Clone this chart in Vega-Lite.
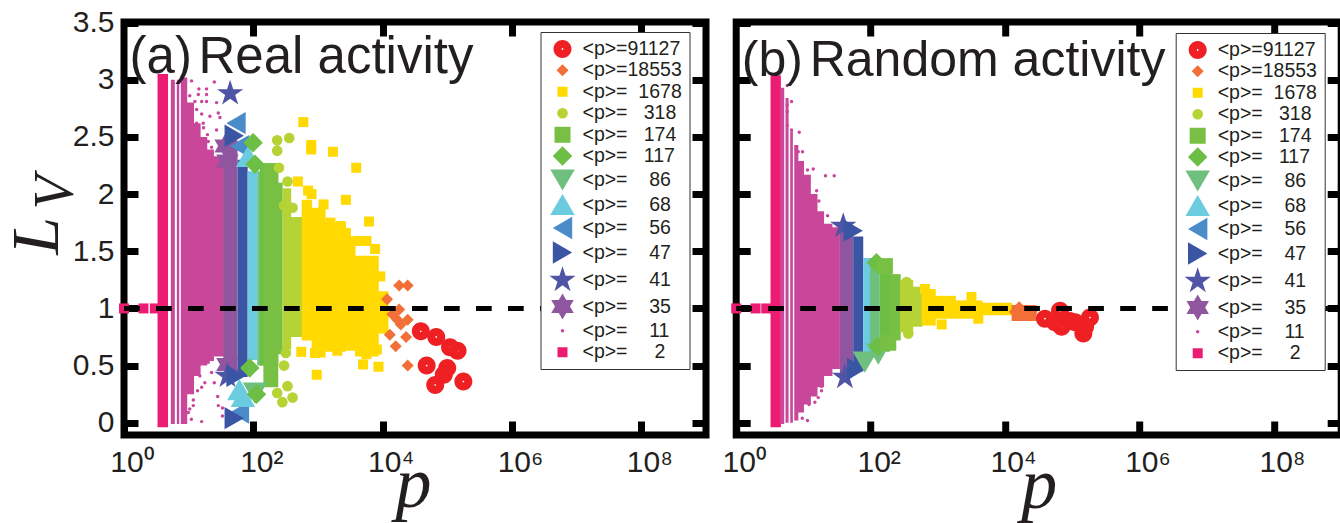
{
"$schema":"https://vega.github.io/schema/vega-lite/v6.json",
"padding":{"left":0,"top":4,"right":0,"bottom":0},
"background":"white",
"bounds":"flush",
"spacing":30.2,
"resolve":{"scale":{"color":"independent","shape":"independent","size":"independent"}},
"config":{"view":{"stroke":"#000","strokeWidth":7},"font":"Liberation Sans","axis":{"grid":false,"domain":false,"tickColor":"#000","tickWidth":7,"tickSize":-14,"labelFont":"Liberation Sans","labelFontSize":30,"labelColor":"#231f20","labelFlush":false}},
"datasets":{
"a_bands":[
{"s":"11","p":5.3,"p2":6.11,"lo":-0.01,"hi":3.0},
{"s":"11","p":6.57,"p2":7.15,"lo":-0.01,"hi":3.0},
{"s":"11","p":7.57,"p2":9.5,"lo":-0.01,"hi":3.02},
{"s":"11","p":9.3,"p2":12.1,"lo":0.25,"hi":2.8},
{"s":"11","p":11.8,"p2":15.3,"lo":0.41,"hi":2.62},
{"s":"11","p":14.9,"p2":19.4,"lo":0.5,"hi":2.5},
{"s":"11","p":18.9,"p2":24.6,"lo":0.54,"hi":2.39},
{"s":"11","p":24,"p2":35,"lo":0.58,"hi":2.33},
{"s":"2","p":3.3,"p2":4.8,"lo":-0.04,"hi":3.05},
{"s":"35","p":34.3,"p2":57,"lo":0.47,"hi":2.47},
{"s":"47","p":57,"p2":81.7,"lo":0.4,"hi":2.3},
{"s":"68","p":81.7,"p2":115,"lo":0.55,"hi":2.2},
{"s":"86","p":115,"p2":151,"lo":0.5,"hi":2.2},
{"s":"117","p":126,"p2":243,"lo":0.5,"hi":2.27},
{"s":"174","p":143,"p2":243,"lo":0.31,"hi":2.27},
{"s":"174","p":240,"p2":284,"lo":0.6,"hi":2.1},
{"s":"318","p":284,"p2":385,"lo":0.64,"hi":2.05},
{"s":"318","p":380,"p2":578,"lo":0.75,"hi":1.8},
{"s":"1678","p":560,"p2":810,"lo":0.72,"hi":1.95},
{"s":"1678","p":798,"p2":1310,"lo":0.57,"hi":1.88},
{"s":"1678","p":1285,"p2":2680,"lo":0.62,"hi":1.75},
{"s":"1678","p":2620,"p2":3800,"lo":0.63,"hi":1.63},
{"s":"1678","p":3740,"p2":8700,"lo":0.58,"hi":1.46},
{"s":"1678","p":8590,"p2":12300,"lo":0.78,"hi":1.15}
],
"a_pts":[
{"s":"2","p":1,"v":1},{"s":"2","p":2,"v":1},{"s":"2","p":3,"v":1},
{"s":"11","p":11.1,"v":2.99},{"s":"11","p":14.4,"v":2.92},{"s":"11","p":18.9,"v":2.92},{"s":"11","p":24.9,"v":2.98},{"s":"11","p":14.1,"v":2.87},{"s":"11","p":18.9,"v":2.87},{"s":"11","p":10.4,"v":2.86},{"s":"11","p":12.5,"v":2.81},{"s":"11","p":15.9,"v":2.81},{"s":"11","p":18.9,"v":2.81},{"s":"11","p":27,"v":2.8},{"s":"11","p":13.3,"v":2.74},{"s":"11","p":15.9,"v":2.7},{"s":"11","p":21.3,"v":2.68},{"s":"11","p":28.7,"v":2.71},{"s":"11","p":30.5,"v":2.67},{"s":"11","p":13.3,"v":2.62},{"s":"11","p":16.8,"v":2.62},{"s":"11","p":27,"v":2.56},{"s":"11","p":20.1,"v":2.46},{"s":"11","p":22.6,"v":2.41},{"s":"11","p":21.3,"v":2.32},{"s":"11","p":30.5,"v":2.17},{"s":"11","p":17,"v":2.58},{"s":"11","p":19.5,"v":2.52},
{"s":"11","p":15.9,"v":0.01},{"s":"11","p":28.1,"v":0.23},{"s":"11","p":28.7,"v":0.15},{"s":"11","p":33.3,"v":0.13},{"s":"11","p":33.3,"v":0.06},{"s":"11","p":11.8,"v":0.2},{"s":"11","p":13.7,"v":0.28},{"s":"11","p":15.9,"v":0.31},{"s":"11","p":11.8,"v":0.15},{"s":"11","p":17.8,"v":0.35},{"s":"11","p":14.9,"v":0.41},{"s":"11","p":22.6,"v":0.44},{"s":"11","p":24.9,"v":0.35},{"s":"11","p":20.1,"v":0.53},{"s":"11","p":22.1,"v":0.63},{"s":"11","p":15.9,"v":0.58},{"s":"11","p":12.5,"v":0.53},{"s":"11","p":9.9,"v":0.09},{"s":"11","p":8.24,"v":0.03},{"s":"11","p":11,"v":0.03},{"s":"11","p":10.4,"v":0.12},
{"s":"35","p":37.3,"v":2.42},{"s":"35","p":39.8,"v":2.29},{"s":"35","p":39.8,"v":0.51},
{"s":"41","p":43.8,"v":2.88},{"s":"41","p":39.8,"v":0.41},
{"s":"56","p":54,"v":2.62},{"s":"56","p":61,"v":0.09},{"s":"56","p":61,"v":2.42},
{"s":"47","p":50.7,"v":0.04},{"s":"47","p":50.7,"v":2.51},{"s":"47","p":54,"v":0.41},
{"s":"68","p":68.9,"v":0.23},{"s":"68","p":82.8,"v":2.33},{"s":"68","p":61,"v":0.29},
{"s":"86","p":106,"v":0.26},
{"s":"117","p":99,"v":2.45},{"s":"117","p":112,"v":0.25},{"s":"117","p":106,"v":2.26},{"s":"117","p":88,"v":0.48},
{"s":"318","p":234,"v":2.47},{"s":"318","p":359,"v":2.49},{"s":"318","p":234,"v":2.38},{"s":"318","p":249,"v":2.23},{"s":"318","p":338,"v":2.11},{"s":"318","p":405,"v":1.88},{"s":"318","p":299,"v":1.9},{"s":"318","p":234,"v":0.26},{"s":"318","p":338,"v":0.32},{"s":"318","p":405,"v":0.22},{"s":"318","p":281,"v":0.18},{"s":"318","p":318,"v":0.61},{"s":"318","p":299,"v":0.5},
{"s":"1678","p":593,"v":2.63},{"s":"1678","p":785,"v":2.43},{"s":"1678","p":785,"v":2.39},{"s":"1678","p":1700,"v":2.37},{"s":"1678","p":3900,"v":2.23},{"s":"1678","p":2700,"v":1.95},{"s":"1678","p":488,"v":2.11},{"s":"1678","p":703,"v":2.03},{"s":"1678","p":794,"v":2.0},{"s":"1678","p":1220,"v":1.91},{"s":"1678","p":6140,"v":1.76},{"s":"1678","p":1560,"v":1.75},{"s":"1678","p":2250,"v":1.72},{"s":"1678","p":2700,"v":1.66},{"s":"1678","p":5620,"v":1.59},{"s":"1678","p":7640,"v":1.52},{"s":"1678","p":4150,"v":1.59},{"s":"1678","p":9180,"v":1.28},{"s":"1678","p":955,"v":0.42},{"s":"1678","p":4980,"v":0.51},{"s":"1678","p":8630,"v":0.49},{"s":"1678","p":551,"v":0.62},{"s":"1678","p":899,"v":0.61},{"s":"1678","p":1990,"v":0.63},{"s":"1678","p":8130,"v":0.64},{"s":"1678","p":5620,"v":0.6},
{"s":"18553","p":18000,"v":1.2},{"s":"18553","p":24400,"v":1.2},{"s":"18553","p":11700,"v":1.08},{"s":"18553","p":14100,"v":0.95},{"s":"18553","p":18000,"v":0.99},{"s":"18553","p":24400,"v":0.9},{"s":"18553","p":19100,"v":0.86},{"s":"18553","p":12900,"v":0.77},{"s":"18553","p":23000,"v":0.75},{"s":"18553","p":15900,"v":0.67},{"s":"18553","p":24400,"v":0.5},{"s":"18553","p":16900,"v":0.9},
{"s":"91127","p":38900,"v":0.8},{"s":"91127","p":67400,"v":0.75},{"s":"91127","p":110000,"v":0.66},{"s":"91127","p":144000,"v":0.63},{"s":"91127","p":47900,"v":0.5},{"s":"91127","p":99700,"v":0.48},{"s":"91127","p":88100,"v":0.42},{"s":"91127","p":65000,"v":0.33},{"s":"91127","p":177000,"v":0.36}
],
"b_bands":[
{"s":"11","p":4.62,"p2":5.18,"lo":-0.01,"hi":2.93},
{"s":"11","p":5.42,"p2":6.01,"lo":0,"hi":2.84},
{"s":"11","p":6.37,"p2":6.97,"lo":0,"hi":2.55},
{"s":"11","p":7.3,"p2":8.4,"lo":0.02,"hi":2.43},
{"s":"11","p":8.18,"p2":10.2,"lo":0.09,"hi":2.29},
{"s":"11","p":9.93,"p2":12.9,"lo":0.16,"hi":2.17},
{"s":"11","p":12.5,"p2":16.2,"lo":0.23,"hi":2.0},
{"s":"11","p":15.7,"p2":20.3,"lo":0.31,"hi":1.85},
{"s":"11","p":19.7,"p2":27,"lo":0.41,"hi":1.74},
{"s":"11","p":26.2,"p2":34.9,"lo":0.47,"hi":1.71},
{"s":"2","p":3.24,"p2":4.62,"lo":-0.04,"hi":3.04},
{"s":"35","p":34.9,"p2":55,"lo":0.41,"hi":1.73},
{"s":"47","p":55,"p2":77.6,"lo":0.45,"hi":1.63},
{"s":"68","p":77.6,"p2":116,"lo":0.57,"hi":1.44},
{"s":"86","p":97.5,"p2":137,"lo":0.6,"hi":1.44},
{"s":"117","p":137,"p2":195,"lo":0.62,"hi":1.41},
{"s":"174","p":190,"p2":280,"lo":0.72,"hi":1.3},
{"s":"318","p":273,"p2":430,"lo":0.79,"hi":1.25},
{"s":"318","p":420,"p2":590,"lo":0.84,"hi":1.19},
{"s":"1678","p":573,"p2":930,"lo":0.85,"hi":1.17},
{"s":"1678","p":904,"p2":1850,"lo":0.91,"hi":1.11},
{"s":"1678","p":1794,"p2":4600,"lo":0.91,"hi":1.07},
{"s":"1678","p":4477,"p2":12800,"lo":0.94,"hi":1.05},
{"s":"18553","p":12500,"p2":29400,"lo":0.89,"hi":1.03}
],
"b_pts":[
{"s":"2","p":1,"v":1},{"s":"2","p":1.94,"v":1},{"s":"2","p":2.8,"v":1},
{"s":"11","p":5.74,"v":2.95},{"s":"11","p":6.66,"v":2.81},{"s":"11","p":5.74,"v":2.78},{"s":"11","p":5.74,"v":2.72},{"s":"11","p":5.74,"v":2.6},{"s":"11","p":8.66,"v":2.54},{"s":"11","p":6.66,"v":2.56},{"s":"11","p":8.37,"v":2.37},{"s":"11","p":9.7,"v":2.37},{"s":"11","p":9.38,"v":2.27},{"s":"11","p":11.5,"v":2.21},{"s":"11","p":14,"v":2.22},{"s":"11","p":21.3,"v":2.16},{"s":"11","p":28.7,"v":2.16},{"s":"11","p":15.7,"v":2.03},{"s":"11","p":17,"v":1.94},{"s":"11","p":14,"v":1.89},{"s":"11","p":12.5,"v":1.87},{"s":"11","p":14.8,"v":1.83},{"s":"11","p":18.6,"v":1.8},{"s":"11","p":22.9,"v":1.81},{"s":"11","p":24.8,"v":1.7},{"s":"11","p":23.4,"v":0.51},{"s":"11","p":18.6,"v":0.32},{"s":"11","p":18.6,"v":0.28},{"s":"11","p":16.6,"v":0.22},{"s":"11","p":14.8,"v":0.18},{"s":"11","p":12.1,"v":0.16},{"s":"11","p":11.5,"v":0.02},{"s":"11","p":9.6,"v":0.04},
{"s":"41","p":41.4,"v":0.4},{"s":"41","p":39.1,"v":1.72},
{"s":"47","p":55,"v":1.68},{"s":"47","p":62,"v":0.47},
{"s":"86","p":130,"v":0.6},{"s":"86","p":82,"v":0.53},
{"s":"117","p":130,"v":0.67},{"s":"117","p":122,"v":1.4},
{"s":"174","p":163,"v":1.37},{"s":"174","p":183,"v":0.7},
{"s":"318","p":343,"v":1.23},{"s":"318","p":363,"v":0.78},
{"s":"1678","p":642,"v":1.17},{"s":"1678","p":1140,"v":0.86},{"s":"1678","p":3990,"v":0.91},{"s":"1678","p":3160,"v":1.1},
{"s":"18553","p":16200,"v":1.01},{"s":"18553","p":24800,"v":0.97},{"s":"18553","p":14000,"v":0.97},
{"s":"91127","p":39200,"v":0.91},{"s":"91127","p":65600,"v":0.98},{"s":"91127","p":69300,"v":0.84},{"s":"91127","p":92300,"v":0.89},{"s":"91127","p":146000,"v":0.78},{"s":"91127","p":183000,"v":0.92},{"s":"91127","p":155000,"v":0.84},{"s":"91127","p":55200,"v":0.88},{"s":"91127","p":110000,"v":0.88}
],
"a_line":[{"p":1,"v":1},{"p":1000000000,"v":1}],
"b_line":[{"p":1,"v":1},{"p":1000000000,"v":1}],
"a_text":[{"t":"(a)","p":1.22,"v":3.06},{"t":"Real activity","p":14.2,"v":3.06}],
"b_text":[{"t":"(b)","p":1.21,"v":3.03},{"t":"Random activity","p":12.4,"v":3.03}],
"a_L":[{"t":"L","p":0.095,"v":1.47}],
"a_V":[{"t":"V","p":0.165,"v":1.866}]
},
"hconcat":[
{"width":582,"height":413,
"resolve":{"axis":{"x":"independent","y":"independent"}},
"encoding":{"x":{"field":"p","type":"quantitative","scale":{"type":"log","domain":[1,1000000000]},"axis":null},
"y":{"field":"v","type":"quantitative","scale":{"domain":[-0.107,3.505]},"axis":null}},
"layer":[
{"data":{"name":"a_bands"},"mark":{"type":"rect"},
"encoding":{"x2":{"field":"p2"},"y":{"field":"lo","type":"quantitative","scale":{"domain":[-0.107,3.505]},"axis":null},"y2":{"field":"hi"},
"color":{"field":"s","type":"nominal","scale":{"domain":["91127","18553","1678","318","174","117","86","68","56","47","41","35","11","2"],"range":["#EE2024","#F26F38","#FFD900","#B5D334","#77C043","#6CBE45","#6FC07F","#6BCBDF","#4A8BC9","#3B55A5","#4F54A5","#8F559F","#C9479A","#ED1C73"]}}}},
{"data":{"name":"a_pts"},"mark":{"type":"point","filled":true,"opacity":1,"strokeWidth":0},
"encoding":{"x":{"field":"p","type":"quantitative","scale":{"type":"log","domain":[1,1000000000]},"axis":{"orient":"bottom","values":[1,100,10000,1000000,100000000],"labelExpr":"datum.value==1?'10⁰':datum.value==100?'10²':datum.value==10000?'10⁴':datum.value==1000000?'10⁶':'10⁸'","labelPadding":26,"labelOffset":8,"title":"p","titleFont":"Liberation Serif","titleFontStyle":"italic","titleFontWeight":"normal","titleFontSize":72,"titleColor":"#231f20","titleX":289,"titleY":71.5,"titleBaseline":"alphabetic"}},
"y":{"field":"v","type":"quantitative","scale":{"domain":[-0.107,3.505]},"axis":{"orient":"left","values":[0,0.5,1,1.5,2,2.5,3,3.5],"format":"~g","labelPadding":24,"title":null}},
"color":{"field":"s","type":"nominal","scale":{"domain":["91127","18553","1678","318","174","117","86","68","56","47","41","35","11","2"],"range":["#EE2024","#F26F38","#FFD900","#B5D334","#77C043","#6CBE45","#6FC07F","#6BCBDF","#4A8BC9","#3B55A5","#4F54A5","#8F559F","#C9479A","#ED1C73"]},
"legend":{"title":null,"orient":"none","legendX":416.5,"legendY":10,"padding":7,"strokeColor":"#333","fillColor":"white","labelFont":"Liberation Sans","labelFontSize":19.5,"labelColor":"#231f20","labelLimit":200,"labelOffset":5,"symbolSize":441,"rowPadding":0.5,"encoding":{"legend":{"update":{"strokeWidth":{"value":2.5}}},"symbols":{"update":{"y":{"value":9},"size":{"signal":"({'91127':324,'18553':144,'1678':100,'318':113,'174':256,'117':380,'86':600,'68':600,'56':500,'47':500,'41':676,'35':676,'11':12,'2':100})[datum.value]"}}},"labels":{"update":{"y":{"value":9}}}},"labelExpr":"'<p>='+(length(datum.label)==5?datum.label+'\u00a0\u00a0':length(datum.label)==4?'\u00a0\u00a0'+datum.label:length(datum.label)==3?'\u00a0\u00a0\u00a0'+datum.label:length(datum.label)==2?'\u00a0\u00a0\u00a0\u00a0'+datum.label:'\u00a0\u00a0\u00a0\u00a0\u00a0'+datum.label)"}},
"shape":{"field":"s","type":"nominal","scale":{"domain":["91127","18553","1678","318","174","117","86","68","56","47","41","35","11","2"],"range":["M-1,0A1,1 0 1,0 1,0A1,1 0 1,0 -1,0ZM-0.1,0A0.1,0.1 0 1,1 0.1,0A0.1,0.1 0 1,1 -0.1,0Z","diamond","square","circle","square","diamond","triangle-down","triangle-up","triangle-left","triangle-right","M0,-1L.225,-.309L.951,-.309L.363,.118L.588,.809L0,.382L-.588,.809L-.363,.118L-.951,-.309L-.225,-.309Z","M0,-1L.289,-.5L.866,-.5L.577,0L.866,.5L.289,.5L0,1L-.289,.5L-.866,.5L-.577,0L-.866,-.5L-.289,-.5Z","circle","square"]}},
"size":{"field":"s","type":"nominal","legend":null,"scale":{"type":"ordinal","domain":["91127","18553","1678","318","174","117","86","68","56","47","41","35","11","2"],"range":[324,144,100,113,256,380,600,600,500,500,760,676,12,100]}}}},
{"data":{"name":"a_line"},"mark":{"type":"line","color":"#000","strokeWidth":5,"strokeDash":[15.7,16.3]},
"encoding":{"x":{"field":"p","type":"quantitative","scale":{"type":"log","domain":[1,1000000000]},"axis":{"orient":"top","values":[100,10000,1000000,100000000],"labels":false,"title":null}},
"y":{"field":"v","type":"quantitative","scale":{"domain":[-0.107,3.505]},"axis":{"orient":"right","values":[0,0.5,1,1.5,2,2.5,3,3.5],"labels":false,"title":null}}}},
{"data":{"name":"a_text"},"mark":{"type":"text","font":"Liberation Sans","fontSize":51,"align":"left","baseline":"alphabetic","color":"#231f20"},"encoding":{"text":{"field":"t"}}},
{"data":{"name":"a_L"},"mark":{"type":"text","font":"Liberation Serif","fontStyle":"italic","fontSize":68,"angle":270,"align":"left","baseline":"alphabetic","color":"#231f20"},"encoding":{"text":{"field":"t"}}},
{"data":{"name":"a_V"},"mark":{"type":"text","font":"Liberation Serif","fontStyle":"italic","fontSize":56,"angle":270,"align":"left","baseline":"alphabetic","color":"#231f20"},"encoding":{"text":{"field":"t"}}}
]},
{"width":605,"height":413,
"resolve":{"axis":{"x":"independent","y":"independent"}},
"encoding":{"x":{"field":"p","type":"quantitative","scale":{"type":"log","domain":[1,1000000000]},"axis":null},
"y":{"field":"v","type":"quantitative","scale":{"domain":[-0.107,3.505]},"axis":null}},
"layer":[
{"data":{"name":"b_bands"},"mark":{"type":"rect"},
"encoding":{"x2":{"field":"p2"},"y":{"field":"lo","type":"quantitative","scale":{"domain":[-0.107,3.505]},"axis":null},"y2":{"field":"hi"},
"color":{"field":"s","type":"nominal","scale":{"domain":["91127","18553","1678","318","174","117","86","68","56","47","41","35","11","2"],"range":["#EE2024","#F26F38","#FFD900","#B5D334","#77C043","#6CBE45","#6FC07F","#6BCBDF","#4A8BC9","#3B55A5","#4F54A5","#8F559F","#C9479A","#ED1C73"]}}}},
{"data":{"name":"b_pts"},"mark":{"type":"point","filled":true,"opacity":1,"strokeWidth":0},
"encoding":{"x":{"field":"p","type":"quantitative","scale":{"type":"log","domain":[1,1000000000]},"axis":{"orient":"bottom","values":[1,100,10000,1000000,100000000],"labelExpr":"datum.value==1?'10⁰':datum.value==100?'10²':datum.value==10000?'10⁴':datum.value==1000000?'10⁶':'10⁸'","labelPadding":26,"labelOffset":8,"title":"p","titleFont":"Liberation Serif","titleFontStyle":"italic","titleFontWeight":"normal","titleFontSize":72,"titleColor":"#231f20","titleX":302.5,"titleY":72,"titleBaseline":"alphabetic"}},
"y":{"field":"v","type":"quantitative","scale":{"domain":[-0.107,3.505]},"axis":{"orient":"left","values":[0,0.5,1,1.5,2,2.5,3,3.5],"labels":false,"title":null}},
"color":{"field":"s","type":"nominal","scale":{"domain":["91127","18553","1678","318","174","117","86","68","56","47","41","35","11","2"],"range":["#EE2024","#F26F38","#FFD900","#B5D334","#77C043","#6CBE45","#6FC07F","#6BCBDF","#4A8BC9","#3B55A5","#4F54A5","#8F559F","#C9479A","#ED1C73"]},
"legend":{"title":null,"orient":"none","legendX":439.5,"legendY":11,"padding":7,"strokeColor":"#333","fillColor":"white","labelFont":"Liberation Sans","labelFontSize":19.5,"labelColor":"#231f20","labelLimit":200,"labelOffset":5,"symbolSize":441,"rowPadding":0.5,"encoding":{"legend":{"update":{"strokeWidth":{"value":2.5}}},"symbols":{"update":{"y":{"value":9},"size":{"signal":"({'91127':324,'18553':144,'1678':100,'318':113,'174':256,'117':380,'86':600,'68':600,'56':500,'47':500,'41':676,'35':676,'11':12,'2':100})[datum.value]"}}},"labels":{"update":{"y":{"value":9}}}},"labelExpr":"'<p>='+(length(datum.label)==5?datum.label+'\u00a0\u00a0':length(datum.label)==4?'\u00a0\u00a0'+datum.label:length(datum.label)==3?'\u00a0\u00a0\u00a0'+datum.label:length(datum.label)==2?'\u00a0\u00a0\u00a0\u00a0'+datum.label:'\u00a0\u00a0\u00a0\u00a0\u00a0'+datum.label)"}},
"shape":{"field":"s","type":"nominal","scale":{"domain":["91127","18553","1678","318","174","117","86","68","56","47","41","35","11","2"],"range":["M-1,0A1,1 0 1,0 1,0A1,1 0 1,0 -1,0ZM-0.1,0A0.1,0.1 0 1,1 0.1,0A0.1,0.1 0 1,1 -0.1,0Z","diamond","square","circle","square","diamond","triangle-down","triangle-up","triangle-left","triangle-right","M0,-1L.225,-.309L.951,-.309L.363,.118L.588,.809L0,.382L-.588,.809L-.363,.118L-.951,-.309L-.225,-.309Z","M0,-1L.289,-.5L.866,-.5L.577,0L.866,.5L.289,.5L0,1L-.289,.5L-.866,.5L-.577,0L-.866,-.5L-.289,-.5Z","circle","square"]}},
"size":{"field":"s","type":"nominal","legend":null,"scale":{"type":"ordinal","domain":["91127","18553","1678","318","174","117","86","68","56","47","41","35","11","2"],"range":[324,144,100,113,256,380,600,600,500,500,760,676,12,100]}}}},
{"data":{"name":"b_line"},"mark":{"type":"line","color":"#000","strokeWidth":5,"strokeDash":[15.7,16.3]},
"encoding":{"x":{"field":"p","type":"quantitative","scale":{"type":"log","domain":[1,1000000000]},"axis":{"orient":"top","values":[100,10000,1000000,100000000],"labels":false,"title":null}},
"y":{"field":"v","type":"quantitative","scale":{"domain":[-0.107,3.505]},"axis":{"orient":"right","values":[0,0.5,1,1.5,2,2.5,3,3.5],"labels":false,"title":null}}}},
{"data":{"name":"b_text"},"mark":{"type":"text","font":"Liberation Sans","fontSize":50,"align":"left","baseline":"alphabetic","color":"#231f20"},"encoding":{"text":{"field":"t"}}}
]}
]
}
